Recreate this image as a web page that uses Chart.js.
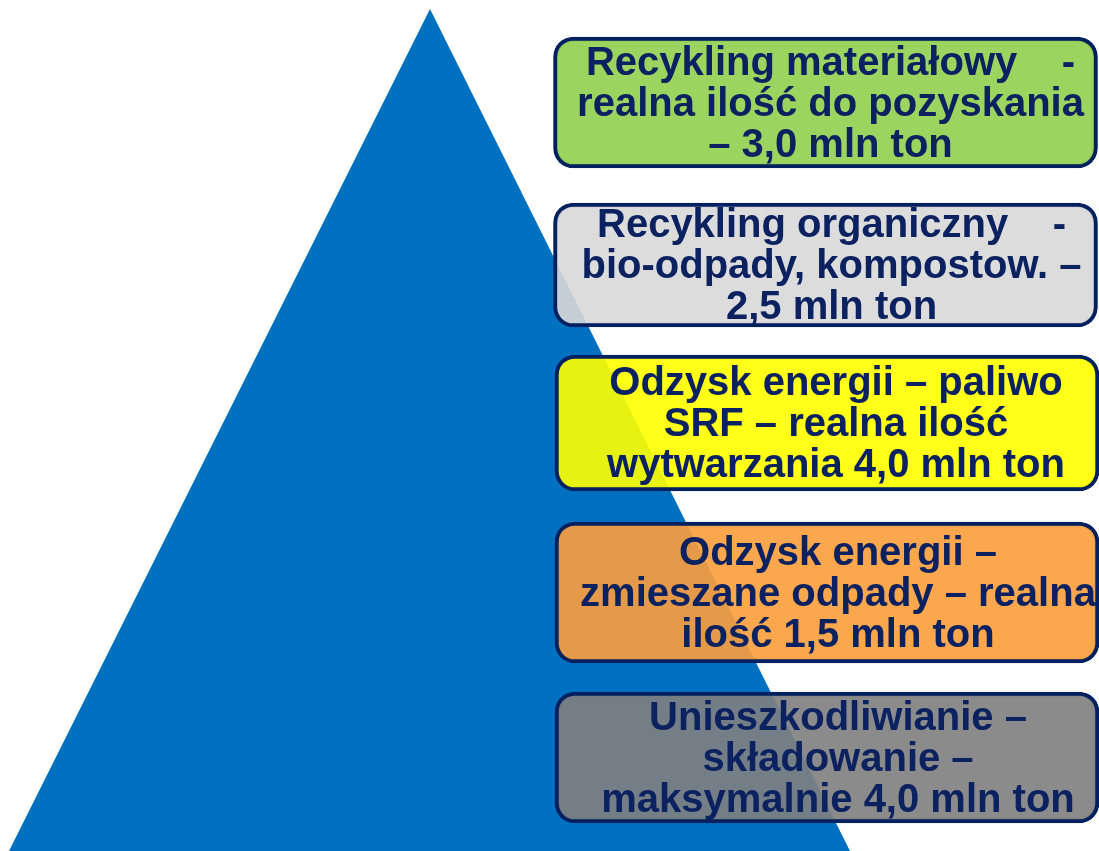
<!DOCTYPE html>
<html>
<head>
<meta charset="utf-8">
<script src="https://cdn.jsdelivr.net/npm/chart.js@4/dist/chart.umd.min.js"></script>
<style>
  html, body { margin: 0; padding: 0; background: #fff; }
  #chart-1 { display: block; }
</style>
</head>
<body>
<canvas id="chart-1" width="1099" height="851"></canvas>
<script>
// box texts, one entry per level of the pyramid (top -> bottom)
const boxLines = [
  ['Recykling materiałowy    -', 'realna ilość do pozyskania', '– 3,0 mln ton'],
  ['Recykling organiczny    -', 'bio-odpady, kompostow. –', '2,5 mln ton'],
  ['Odzysk energii – paliwo', 'SRF – realna ilość', 'wytwarzania 4,0 mln ton'],
  ['Odzysk energii –', 'zmieszane odpady – realna', 'ilość 1,5 mln ton'],
  ['Unieszkodliwianie –', 'składowanie –', 'maksymalnie 4,0 mln ton']
];
// mln ton per level
const amounts = [3.0, 2.5, 4.0, 1.5, 4.0];
// vertical extent of each box (top, bottom) on the page scale
const boxTop = [37, 203, 355, 522, 692];
const boxBottom = [168, 327, 491, 663, 823];
const boxCenterX = [825.5, 825.5, 827, 827, 827];
const boxColors = [
  'rgba(146,208,80,0.91)',
  'rgba(217,217,217,0.91)',
  'rgba(255,255,0,0.91)',
  'rgba(251,158,60,0.91)',
  'rgba(128,128,128,0.91)'
];
const textShift = [5, 6, 9, 11, 11];

// pyramid outline
const pyramidX = [9, 430, 850];
const pyramidY = [851, 9, 851];

const boxLabels = {
  id: 'boxLabels',
  afterDatasetsDraw(chart) {
    const ctx = chart.ctx;
    const meta = chart.getDatasetMeta(1);
    ctx.save();
    ctx.fillStyle = '#0b2160';
    ctx.font = 'bold 40px "Liberation Sans", Arial, sans-serif';
    ctx.textAlign = 'center';
    ctx.textBaseline = 'middle';
    meta.data.forEach((bar, i) => {
      const lines = boxLines[i];
      const cx = bar.x + textShift[i];
      const cy = (bar.y + bar.base) / 2;
      const lh = 41;
      lines.forEach((line, j) => {
        ctx.fillText(line, cx, cy + (j - (lines.length - 1) / 2) * lh + 2);
      });
    });
    ctx.restore();
  }
};

const ctx = document.getElementById('chart-1').getContext('2d');
new Chart(ctx, {
  type: 'bar',
  data: {
    datasets: [
      {
        type: 'line',
        label: 'piramida',
        data: pyramidX.map((x, i) => ({ x: x, y: pyramidY[i] })),
        backgroundColor: '#0070c0',
        borderWidth: 0,
        pointRadius: 0,
        tension: 0,
        fill: { value: 851 },
        order: 2
      },
      {
        type: 'bar',
        label: 'mln ton',
        data: boxTop.map((t, i) => ({ x: boxCenterX[i], y: [t, boxBottom[i]], v: amounts[i] })),
        backgroundColor: boxColors,
        borderColor: '#002060',
        borderWidth: 4,
        borderRadius: 20,
        borderSkipped: false,
        barThickness: 544,
        order: 1
      }
    ]
  },
  options: {
    responsive: false,
    animation: false,
    layout: { padding: 0 },
    plugins: {
      legend: { display: false },
      tooltip: { enabled: false }
    },
    scales: {
      x: { type: 'linear', min: 0, max: 1099, offset: false, display: false },
      y: { type: 'linear', min: 0, max: 851, reverse: true, display: false, beginAtZero: false }
    }
  },
  plugins: [boxLabels]
});
</script>
</body>
</html>
